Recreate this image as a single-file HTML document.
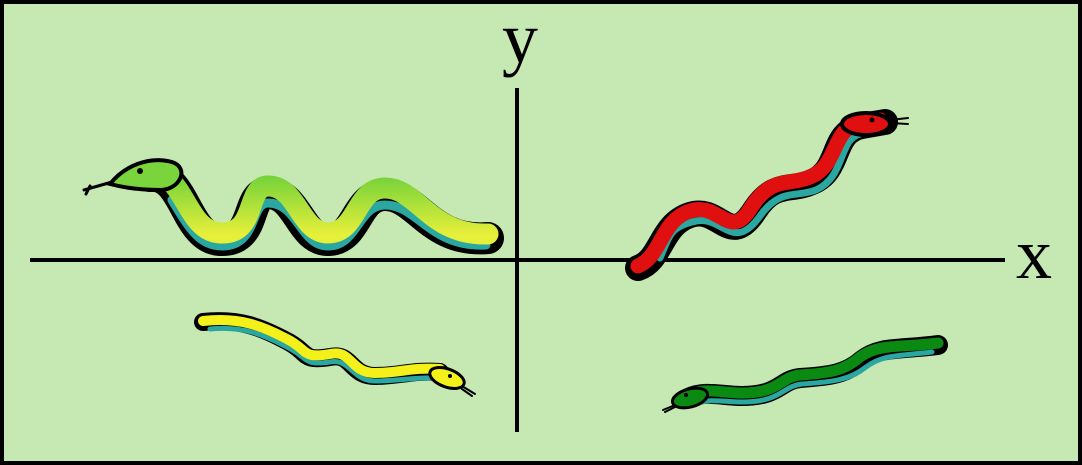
<!DOCTYPE html>
<html><head><meta charset="utf-8"><style>
html,body{margin:0;padding:0;background:#c6e9b4}
svg{display:block}
</style></head><body>
<svg width="1082" height="465" viewBox="0 0 1082 465">
<defs>
<linearGradient id="gg" x1="0" y1="0" x2="0" y2="1">
<stop offset="0" stop-color="#6fd13a"/><stop offset="1" stop-color="#e6ef3a"/></linearGradient>
</defs>
<rect x="2" y="2" width="1078" height="461" fill="#c6e9b4" stroke="#000" stroke-width="4"/>
<line x1="30" y1="260" x2="1005" y2="260" stroke="#000" stroke-width="4"/>
<line x1="517" y1="88" x2="517" y2="432" stroke="#000" stroke-width="4"/>
<text x="520" y="62" font-family="Liberation Serif, serif" font-size="72" text-anchor="middle">y</text>
<text x="1034" y="278" font-family="Liberation Serif, serif" font-size="72" text-anchor="middle">x</text>

<g fill="none" stroke-linecap="round">
<path d="M84,190 L112,182 M90,186 L86,194" stroke="#000" stroke-width="3"/>
<path d="M150,176 C185,172 185,238 220,240 C258,242 245,193 268,193 C298,193 300,240 328,240 C358,240 355,195 385,195 C418,195 430,243 488,238" stroke="#000" stroke-width="32"/>
<path d="M172,200 C190,230 200,246 222,246 C258,246 250,203 268,203 C298,203 300,246 328,246 C358,246 358,205 385,205 C418,205 430,248 486,245" stroke="#2aa7a0" stroke-width="9"/>
<path d="M150,174 C185,170 185,231 220,233 C258,235 245,186 268,186 C298,186 300,233 328,233 C358,233 355,188 385,188 C418,188 430,236 488,234" stroke="url(#gg)" stroke-width="21"/>
<path d="M110,184 C125,165 150,156 172,162 C190,168 180,190 160,190 C140,190 125,188 110,184 Z" fill="#7ad43c" stroke="#000" stroke-width="4"/>
<circle cx="140" cy="171" r="3" fill="#000"/>
</g>

<g fill="none" stroke-linecap="round">
<path d="M890,120 L908,118 M890,123 L908,124" stroke="#000" stroke-width="2"/>
<path d="M638,268 C662,260 660,225 690,215 C720,205 730,250 755,210 C775,180 790,192 812,182 C842,170 830,132 862,126 L885,122" stroke="#000" stroke-width="26"/>
<path d="M660,258 C670,235 670,228 692,222 C722,212 732,255 760,216 C780,188 795,198 816,190 C846,176 838,140 860,134" stroke="#2aa7a0" stroke-width="7"/>
<path d="M638,266 C662,256 660,221 690,211 C720,201 730,244 752,206 C772,176 788,186 810,177 C840,165 830,128 862,122 L880,120" stroke="#e01010" stroke-width="15"/>
<ellipse cx="866" cy="124" rx="24" ry="11" fill="#e01010" stroke="#000" stroke-width="4"/>
<circle cx="872" cy="120" r="2.5" fill="#000"/>
</g>

<g fill="none" stroke-linecap="round">
<path d="M462,386 L475,394 M462,389 L472,396" stroke="#000" stroke-width="2"/>
<path d="M203,322 C240,318 262,328 285,340 C310,352 300,362 330,357 C352,352 350,376 375,376 C400,376 412,370 440,372" stroke="#000" stroke-width="18"/>
<path d="M210,329 C242,326 262,334 285,346 C310,358 302,366 330,362 C350,358 352,381 375,381 C400,381 412,377 438,378" stroke="#2aa7a0" stroke-width="5"/>
<path d="M203,321 C240,317 262,326 285,338 C310,350 300,359 330,354 C352,349 350,373 375,373 C400,373 412,367 440,369" stroke="#f4f01a" stroke-width="10"/>
<ellipse cx="447" cy="378" rx="18" ry="9" fill="#f4f01a" stroke="#000" stroke-width="3" transform="rotate(20 447 378)"/>
<circle cx="450" cy="376" r="2" fill="#000"/>
</g>

<g fill="none" stroke-linecap="round">
<path d="M675,405 L663,410 M675,407 L665,412" stroke="#000" stroke-width="2"/>
<path d="M938,345 C900,350 880,346 862,360 C846,374 830,376 800,378 C780,380 780,396 742,396 C722,396 705,390 688,398" stroke="#000" stroke-width="20"/>
<path d="M932,352 C900,356 884,354 866,367 C850,380 832,382 802,384 C782,386 782,402 742,402 C725,402 710,398 695,404" stroke="#2aa7a0" stroke-width="5"/>
<path d="M938,343 C900,348 880,343 860,357 C844,371 830,373 800,375 C780,377 780,393 742,393 C722,393 705,387 688,395" stroke="#0a8a12" stroke-width="11"/>
<ellipse cx="690" cy="398" rx="18" ry="9" fill="#0a8a12" stroke="#000" stroke-width="3" transform="rotate(-15 690 398)"/>
<circle cx="686" cy="395" r="2" fill="#000"/>
</g>
</svg>
</body></html>
